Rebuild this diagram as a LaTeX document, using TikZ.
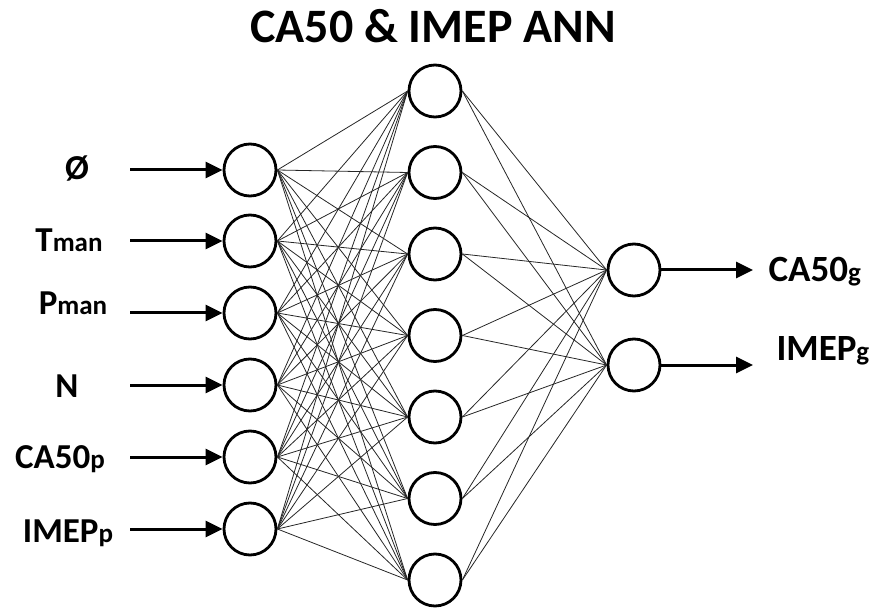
\documentclass[tikz,border=0pt]{standalone}
\usepackage{fontspec}
\setmainfont{Carlito}
\usetikzlibrary{arrows.meta,positioning}

\tikzset{
  neuron/.style={draw, circle, line width=2.8pt, minimum size=52pt, inner sep=0pt},
  link/.style={line width=0.8pt, black!85},
  feed/.style={line width=3pt, -{Triangle[length=17pt,width=16pt]}},
  lab/.style={anchor=base, font=\fontsize{35}{38}\selectfont\bfseries},
  outlab/.style={anchor=base west, font=\fontsize{37}{40}\selectfont\bfseries}
}
\newcommand{\lowpart}[1]{{\fontsize{27}{30}\selectfont #1}}

\begin{document}
\begin{tikzpicture}[x=1pt, y=-1pt]
\useasboundingbox (0,0) rectangle (873,612);

%title
\node [anchor=base, font=\fontsize{48}{50}\selectfont\bfseries] (title) at (433,43) {CA50 \& IMEP ANN};

%nodes
\node [neuron] (i1) at (250,170) {};
\node [neuron] (i2) at (250,241) {};
\node [neuron] (i3) at (250,313) {};
\node [neuron] (i4) at (250,385) {};
\node [neuron] (i5) at (250,457) {};
\node [neuron] (i6) at (250,529) {};

\foreach \k in {1,...,7}
  \node [neuron] (h\k) at (435,{91+81.5*(\k-1)}) {};

\node [neuron] (o1) at (634,270) {};
\node [neuron] (o2) at (634,365) {};

%labels
\node [lab] (l1) at (77,180) {Ø};
\node [lab] (l2) at (69,252) {T\lowpart{man}};
\node [lab] (l3) at (73,315) {P\lowpart{man}};
\node [lab] (l4) at (67,397) {N};
\node [lab] (l5) at (60,468) {CA50\lowpart{p}};
\node [lab] (l6) at (68,542) {IMEP\lowpart{p}};

\node [outlab] (r1) at (765,282) {CA50\lowpart{g}};
\node [outlab] (r2) at (773,360) {IMEP\lowpart{g}};

%arrows
\foreach \k/\y in {1/170,2/241,3/313,4/385,5/457,6/529} {
  \coordinate (s\k) at (130,\y);
  \draw [feed] (s\k) -- (i\k);
}
\coordinate (e1) at (753,270);
\coordinate (e2) at (753,365);
\draw [feed] (o1) -- (e1);
\draw [feed] (o2) -- (e2);

%links
\foreach \a in {1,...,6}
  \foreach \b in {1,...,7}
    \draw [link] (i\a.east) -- (h\b.west);
\foreach \b in {1,...,7}
  \foreach \c in {1,2}
    \draw [link] (h\b.east) -- (o\c.west);

\end{tikzpicture}
\end{document}
